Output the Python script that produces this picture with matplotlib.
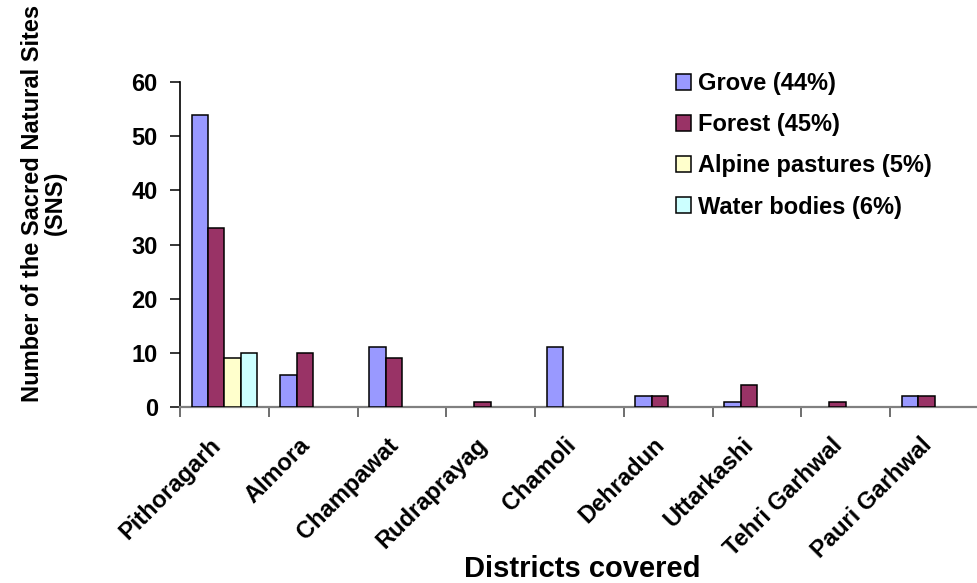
import numpy as np
import matplotlib.pyplot as plt
from matplotlib.transforms import ScaledTranslation

districts = ['Pithoragarh', 'Almora', 'Champawat', 'Rudraprayag', 'Chamoli',
             'Dehradun', 'Uttarkashi', 'Tehri Garhwal', 'Pauri Garhwal']
grove = [54, 6, 11, 0, 11, 2, 1, 0, 2]
forest = [33, 10, 9, 1, 0, 2, 4, 1, 2]
alpine = [9, 0, 0, 0, 0, 0, 0, 0, 0]
water = [10, 0, 0, 0, 0, 0, 0, 0, 0]

series = [('Grove (44%)', grove, '#9999FF'),
          ('Forest (45%)', forest, '#993366'),
          ('Alpine pastures (5%)', alpine, '#FFFFCC'),
          ('Water bodies (6%)', water, '#CCFFFF')]

plt.rcParams['font.family'] = ['Liberation Sans', 'DejaVu Sans']
plt.rcParams['font.weight'] = 'bold'

W, H = 977, 583
fig = plt.figure(figsize=(W / 100, H / 100), dpi=100)
ax = fig.add_axes([180 / W, 1 - 407 / H, 799 / W, 325 / H])

x = np.arange(len(districts))
w = 0.185
start = 0.13
for k, (name, vals, col) in enumerate(series):
    vals = np.array(vals)
    pos = x + start + w * (k + 0.5)
    mask = vals > 0
    ax.bar(pos[mask], vals[mask], width=w, color=col, edgecolor='black',
           linewidth=1.1, label=name, zorder=3)

ax.set_xlim(0, len(districts))
ax.set_ylim(0, 60)
ax.set_yticks(range(0, 61, 10))
ax.set_xticks(np.arange(len(districts) + 1))
ax.set_xticklabels([])
ax.set_xticks(x + 0.5, minor=True)
ax.set_xticklabels(districts, minor=True, rotation=45, ha='right', va='top',
                   rotation_mode='anchor', fontsize=17, fontweight='bold')
ax.tick_params(axis='x', which='minor', length=0, pad=19)
ax.tick_params(axis='x', which='major', length=7, direction='out',
               color='#555555', width=1.2)
ax.tick_params(axis='y', length=7, direction='out', pad=9, labelsize=17, width=1.1)
for lab in ax.get_yticklabels():
    lab.set_fontweight('bold')
shift = ScaledTranslation(-15 / 100, 0, fig.dpi_scale_trans)
for lab in ax.get_xticklabels(minor=True):
    lab.set_transform(lab.get_transform() + shift)

for s in ['top', 'right']:
    ax.spines[s].set_visible(False)
ax.spines['bottom'].set_color('#808080')
ax.spines['bottom'].set_linewidth(1.6)
ax.spines['left'].set_linewidth(1.2)

fig.text(582 / W, 1 - 577 / H, 'Districts covered', fontsize=21,
         fontweight='bold', ha='center', va='baseline')
fig.text(44 / W, 1 - 203 / H, 'Number of the Sacred Natural Sites\n(SNS)',
         fontsize=17, fontweight='bold', rotation=90, ha='center',
         va='center', linespacing=1.0, multialignment='center')

leg = ax.legend(loc='upper left', bbox_to_anchor=(676 / W, 1 - 72 / H),
                bbox_transform=fig.transFigure, frameon=False, borderpad=0,
                fontsize=17, handlelength=0.65, handleheight=0.65,
                handletextpad=0.3, labelspacing=0.77, borderaxespad=0)
for t in leg.get_texts():
    t.set_fontweight('bold')

fig.savefig('out.png', dpi=100)
